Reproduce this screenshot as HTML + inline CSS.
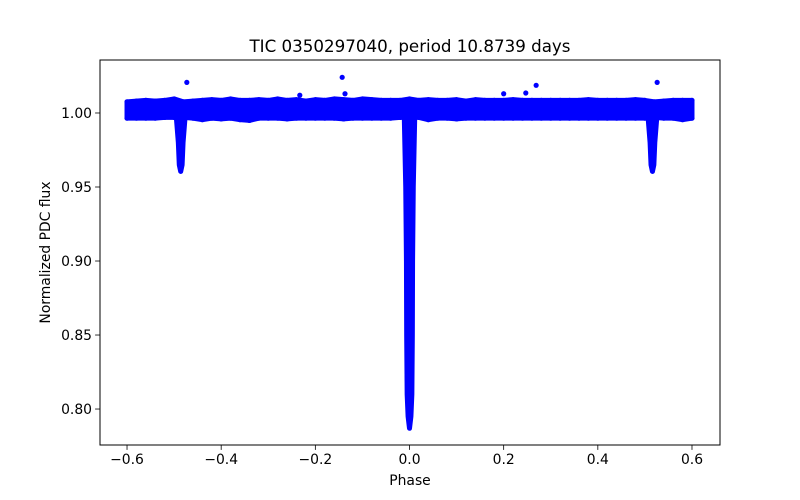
<!DOCTYPE html>
<html><head><meta charset="utf-8"><style>
html,body{margin:0;padding:0;background:#fff;}
svg{display:block;font-family:"DejaVu Sans","Liberation Sans",sans-serif;}
</style></head><body>
<svg id="chart" width="800" height="500" viewBox="0 0 800 500">
<rect width="800" height="500" fill="#fff"/>
<g id="plot"></g>
<g id="axes"></g>
<text x="410" y="52" text-anchor="middle" font-size="16.7" fill="#000">TIC 0350297040, period 10.8739 days</text>
<text x="410" y="485" text-anchor="middle" font-size="13.9" fill="#000">Phase</text>
<text x="50" y="252.5" text-anchor="middle" font-size="13.9" fill="#000" transform="rotate(-90 50 252.5)">Normalized PDC flux</text>
</svg>
<script>
// ---- data ----
const bandPhase = [-0.6,-0.58,-0.56,-0.54,-0.52,-0.5,-0.48,-0.46,-0.44,-0.42,-0.4,-0.38,-0.36,-0.34,-0.32,-0.3,-0.28,-0.26,-0.24,-0.22,-0.2,-0.18,-0.16,-0.14,-0.12,-0.1,-0.08,-0.06,-0.04,-0.02,0,0.02,0.04,0.06,0.08,0.1,0.12,0.14,0.16,0.18,0.2,0.22,0.24,0.26,0.28,0.3,0.32,0.34,0.36,0.38,0.4,0.42,0.44,0.46,0.48,0.5,0.52,0.54,0.56,0.58,0.6];
const bandHigh = [1.0075,1.008,1.0085,1.008,1.0085,1.0095,1.0075,1.008,1.0085,1.009,1.0085,1.0095,1.0085,1.0085,1.009,1.0085,1.0095,1.0085,1.009,1.008,1.009,1.0085,1.0095,1.009,1.0085,1.0095,1.009,1.0085,1.0085,1.0085,1.0095,1.0085,1.009,1.0085,1.0085,1.009,1.008,1.009,1.0085,1.0085,1.0085,1.009,1.0085,1.0085,1.0085,1.0085,1.0085,1.0085,1.0085,1.009,1.0085,1.0085,1.0085,1.0085,1.009,1.0085,1.0075,1.008,1.0085,1.0085,1.0085];
const bandLow = [0.9965,0.9965,0.9965,0.9965,0.997,0.997,0.997,0.9965,0.9955,0.9965,0.996,0.9965,0.9955,0.995,0.9965,0.9965,0.9965,0.996,0.9965,0.9965,0.9965,0.9965,0.9965,0.996,0.9965,0.9965,0.9965,0.9965,0.9965,0.997,0.997,0.997,0.9955,0.9965,0.9965,0.996,0.9965,0.9965,0.9965,0.9965,0.9965,0.9965,0.9965,0.9965,0.9965,0.9965,0.9965,0.9965,0.9965,0.9965,0.9965,0.9965,0.9965,0.9965,0.9965,0.9965,0.997,0.9965,0.9965,0.9955,0.9965];
const primaryCenter = [0.0];
const primaryOffset = [-0.011,-0.008,-0.0065,-0.006,-0.005,-0.003,0,0.003,0.005,0.006,0.0065,0.008,0.011];
const primaryFlux = [0.996,0.95,0.90,0.85,0.81,0.795,0.787,0.795,0.81,0.85,0.90,0.95,0.996];
const secondaryCenter = [-0.486,0.516];
const secondaryOffset = [-0.009,-0.005,-0.003,0,0.003,0.005,0.009];
const secondaryFlux = [0.996,0.98,0.965,0.9605,0.965,0.98,0.996];
const outlierPhase = [-0.473,-0.143,0.269,0.526,0.247,-0.233,-0.137,0.2];
const outlierFlux = [1.0207,1.0241,1.0187,1.0207,1.0135,1.012,1.013,1.013];
const xTicks = [-0.6,-0.4,-0.2,0,0.2,0.4,0.6];
const xTickLabels = ["\u22120.6","\u22120.4","\u22120.2","0.0","0.2","0.4","0.6"];
const yTicks = [0.80,0.85,0.90,0.95,1.00];
const yTickLabels = ["0.80","0.85","0.90","0.95","1.00"];
// ---- scales ----
const L=100,R=720,T=60,B=445;
const xMin=-0.6574,xMax=0.6595,yMin=0.7757,yMax=1.0358;
const sx=v=>L+(v-xMin)/(xMax-xMin)*(R-L);
const sy=v=>B-(v-yMin)/(yMax-yMin)*(B-T);
const NS='http://www.w3.org/2000/svg';
const plot=document.getElementById('plot');
const axes=document.getElementById('axes');
function mk(tag,attrs,parent){const e=document.createElementNS(NS,tag);for(const k in attrs)e.setAttribute(k,attrs[k]);parent.appendChild(e);return e;}
const blue='#0000ff';
let pts=[];
bandPhase.forEach((p,i)=>pts.push(sx(p)+','+sy(bandHigh[i])));
for(let i=bandPhase.length-1;i>=0;i--)pts.push(sx(bandPhase[i])+','+sy(bandLow[i]));
const band=mk('polygon',{points:pts.join(' '),fill:blue,stroke:blue,'stroke-width':5,'stroke-linejoin':'round'},plot);


bandPhase.forEach((p,i)=>{
  const a=mk('circle',{cx:sx(p),cy:sy(bandHigh[i]),r:2.6,fill:blue},plot);
  
  
  const b=mk('circle',{cx:sx(p),cy:sy(bandLow[i]),r:2.6,fill:blue},plot);
  
  
});
function dip(center,offs,flux,name){
  const p=offs.map((o,i)=>sx(center+o)+','+sy(flux[i]));
  p.push(sx(center+offs[offs.length-1])+','+sy(1.0));
  p.push(sx(center+offs[0])+','+sy(1.0));
  const e=mk('polygon',{points:p.join(' '),fill:blue,stroke:blue,'stroke-width':5,'stroke-linejoin':'round'},plot);
  
  
}
primaryCenter.forEach(c=>dip(c,primaryOffset,primaryFlux,'primary-eclipse'));
secondaryCenter.forEach(c=>dip(c,secondaryOffset,secondaryFlux,'secondary-eclipse'));
outlierPhase.forEach((p,i)=>{
  const c=mk('circle',{cx:sx(p),cy:sy(outlierFlux[i]),r:2.6,fill:blue},plot);
  
  
});
const fr=mk('rect',{x:L,y:T,width:R-L,height:B-T,fill:'none',stroke:'#000','stroke-width':1},axes);


xTicks.forEach((t,i)=>{
  const x=sx(t);
  const l=mk('line',{x1:x,x2:x,y1:B,y2:B+4.9,stroke:'#000','stroke-width':0.8},axes);
  
  
  const tx=mk('text',{x:x,y:B+19,'text-anchor':'middle','font-size':13.9,fill:'#000'},axes);
  tx.textContent=xTickLabels[i];
  
  
});
yTicks.forEach((t,i)=>{
  const y=sy(t);
  const l=mk('line',{x1:L-4.9,x2:L,y1:y,y2:y,stroke:'#000','stroke-width':0.8},axes);
  
  
  const tx=mk('text',{x:L-8,y:y+5,'text-anchor':'end','font-size':13.9,fill:'#000'},axes);
  tx.textContent=yTickLabels[i];
  
  
});
</script>
</body></html>
